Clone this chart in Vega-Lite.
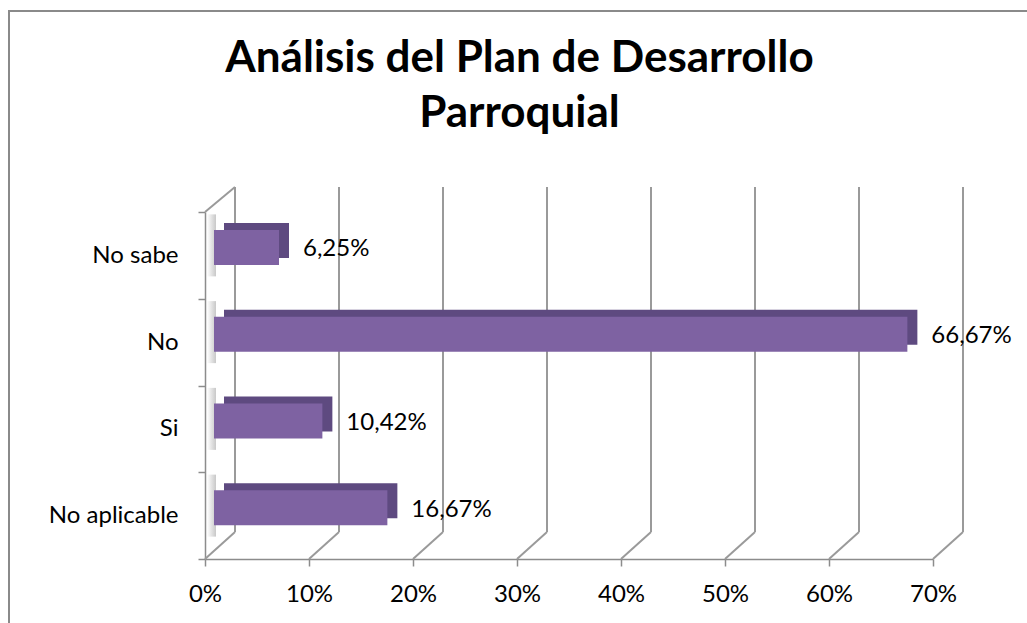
{
  "$schema": "https://vega.github.io/schema/vega-lite/v6.json",
  "width": 1021,
  "height": 615,
  "autosize": {"type": "none"},
  "padding": {"left": 9, "top": 11, "right": -3, "bottom": -3},
  "background": "white",
  "config": {
    "locale": {"number": {"decimal": ",", "thousands": ".", "grouping": [3], "currency": ["", " €"]}},
    "view": {"stroke": "#8a8a8a", "strokeWidth": 2},
    "font": "Lato",
    "axis": {
      "domainColor": "#8c8c8c",
      "domainWidth": 1.5,
      "tickColor": "#8c8c8c",
      "tickWidth": 1.5,
      "tickSize": 7,
      "labelFont": "Lato",
      "labelFontSize": 24,
      "labelColor": "#000000",
      "labelFlush": false,
      "grid": false
    }
  },
  "title": {
    "text": ["Análisis del Plan de Desarrollo", "Parroquial"],
    "frame": "group",
    "anchor": "middle",
    "offset": -172,
    "baseline": "alphabetic",
    "font": "Lato",
    "fontSize": 44,
    "fontWeight": "bold",
    "color": "#000000",
    "lineHeight": 55
  },
  "datasets": {
    "respuestas": [
      {"respuesta": "No sabe", "pct": 0.0625},
      {"respuesta": "No", "pct": 0.6667},
      {"respuesta": "Si", "pct": 0.1042},
      {"respuesta": "No aplicable", "pct": 0.1667}
    ],
    "marcas": [
      {"t": 0}, {"t": 0.1}, {"t": 0.2}, {"t": 0.3},
      {"t": 0.4}, {"t": 0.5}, {"t": 0.6}, {"t": 0.7}
    ]
  },
  "layer": [
    {
      "data": {"name": "marcas"},
      "layer": [
        {
          "mark": {"type": "rule", "color": "#9a9a9a", "strokeWidth": 2, "xOffset": 30, "yOffset": -27, "y2Offset": -25},
          "encoding": {
            "x": {
              "field": "t",
              "type": "quantitative",
              "scale": {"domain": [0, 0.7], "range": [196, 924], "nice": false},
              "axis": {"title": null, "values": [0, 0.1, 0.2, 0.3, 0.4, 0.5, 0.6, 0.7], "format": ".0%", "offset": -67, "labelPadding": 16, "labelFlush": false}
            },
            "y": {"datum": 0, "type": "quantitative", "scale": {"domain": [0, 1], "range": [548, 201], "nice": false}, "axis": null},
            "y2": {"datum": 1}
          }
        },
        {
          "mark": {"type": "rule", "color": "#9a9a9a", "strokeWidth": 2, "x2Offset": 30, "y2Offset": -27},
          "encoding": {
            "x": {
              "field": "t",
              "type": "quantitative",
              "scale": {"domain": [0, 0.7], "range": [196, 924], "nice": false},
              "axis": {"title": null, "values": [0, 0.1, 0.2, 0.3, 0.4, 0.5, 0.6, 0.7], "format": ".0%", "offset": -67, "labelPadding": 16, "labelFlush": false}
            },
            "x2": {"field": "t"},
            "y": {"datum": 0, "type": "quantitative", "scale": {"domain": [0, 1], "range": [548, 201], "nice": false}, "axis": null},
            "y2": {"datum": 0}
          }
        },
        {
          "transform": [{"filter": "datum.t == 0"}],
          "mark": {"type": "rule", "color": "#9a9a9a", "strokeWidth": 2, "x2Offset": 30, "y2Offset": -25},
          "encoding": {
            "x": {
              "field": "t",
              "type": "quantitative",
              "scale": {"domain": [0, 0.7], "range": [196, 924], "nice": false},
              "axis": {"title": null, "values": [0, 0.1, 0.2, 0.3, 0.4, 0.5, 0.6, 0.7], "format": ".0%", "offset": -67, "labelPadding": 16, "labelFlush": false}
            },
            "x2": {"field": "t"},
            "y": {"datum": 1, "type": "quantitative", "scale": {"domain": [0, 1], "range": [548, 201], "nice": false}, "axis": null},
            "y2": {"datum": 1}
          }
        }
      ]
    },
    {
      "data": {"name": "respuestas"},
      "encoding": {
        "y": {
          "field": "respuesta",
          "type": "nominal",
          "sort": ["No sabe", "No", "Si", "No aplicable"],
          "scale": {"range": [201, 548], "paddingInner": 0, "paddingOuter": 0},
          "axis": {"title": null, "tickBand": "extent", "labelPadding": 20, "offset": -196}
        }
      },
      "layer": [
        {
          "mark": {
            "type": "bar",
            "size": 62,
            "xOffset": 2,
            "x2Offset": 11,
            "yOffset": -10,
            "color": {
              "gradient": "linear",
              "x1": 0, "y1": 0, "x2": 1, "y2": 0,
              "stops": [
                {"offset": 0, "color": "#ffffff"},
                {"offset": 1, "color": "#c8c8c8"}
              ]
            }
          },
          "encoding": {
            "x": {
              "datum": 0,
              "type": "quantitative",
              "scale": {"domain": [0, 0.7], "range": [196, 924], "nice": false},
              "axis": {"title": null, "values": [0, 0.1, 0.2, 0.3, 0.4, 0.5, 0.6, 0.7], "format": ".0%", "offset": -67, "labelPadding": 16, "labelFlush": false}
            },
            "x2": {"datum": 0}
          }
        },
        {
          "mark": {"type": "bar", "size": 35, "xOffset": 19, "x2Offset": 19, "yOffset": -15, "color": "#5e4a80"},
          "encoding": {
            "x": {
              "field": "pct",
              "type": "quantitative",
              "scale": {"domain": [0, 0.7], "range": [196, 924], "nice": false},
              "axis": {"title": null, "values": [0, 0.1, 0.2, 0.3, 0.4, 0.5, 0.6, 0.7], "format": ".0%", "offset": -67, "labelPadding": 16, "labelFlush": false}
            }
          }
        },
        {
          "mark": {"type": "bar", "size": 35, "xOffset": 9, "x2Offset": 9, "yOffset": -8, "color": "#7e62a2"},
          "encoding": {
            "x": {
              "field": "pct",
              "type": "quantitative",
              "scale": {"domain": [0, 0.7], "range": [196, 924], "nice": false},
              "axis": {"title": null, "values": [0, 0.1, 0.2, 0.3, 0.4, 0.5, 0.6, 0.7], "format": ".0%", "offset": -67, "labelPadding": 16, "labelFlush": false}
            }
          }
        },
        {
          "mark": {"type": "text", "align": "left", "baseline": "middle", "dx": 33, "dy": -6, "font": "Lato", "fontSize": 24, "color": "#000000"},
          "encoding": {
            "x": {
              "field": "pct",
              "type": "quantitative",
              "scale": {"domain": [0, 0.7], "range": [196, 924], "nice": false},
              "axis": {"title": null, "values": [0, 0.1, 0.2, 0.3, 0.4, 0.5, 0.6, 0.7], "format": ".0%", "offset": -67, "labelPadding": 16, "labelFlush": false}
            },
            "text": {"field": "pct", "type": "quantitative", "format": ".2%"}
          }
        }
      ]
    }
  ],
  "resolve": {"scale": {"y": "independent"}}
}
